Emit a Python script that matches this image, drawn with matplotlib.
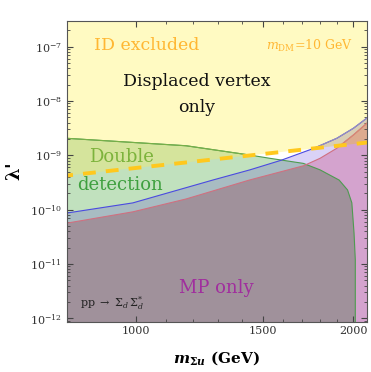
import numpy as np
import matplotlib
matplotlib.use('Agg')
import matplotlib.pyplot as plt
from matplotlib.ticker import FixedLocator, FixedFormatter, NullFormatter, LogLocator

plt.rcParams['font.family'] = 'DejaVu Serif'
plt.rcParams['mathtext.fontset'] = 'dejavuserif'

# boundaries: mass in GeV, lambda' dimensionless
# double detection (green), closes vertically near 2 TeV
m_green = [800, 1173, 1438, 1533, 1705, 1798, 1911, 1963, 1990, 2004, 2012, 2012]
lam_green = [2.06e-9, 1.50e-9, 1.01e-9, 8.8e-10, 7.1e-10, 5.4e-10, 3.5e-10,
             2.3e-10, 1.33e-10, 3.7e-11, 1.2e-11, 5e-13]

# upper edge of the blue band
m_blue = [800, 990, 1277, 1438, 1588, 1759, 1897, 2000, 2090]
lam_blue = [8.6e-11, 1.33e-10, 3.5e-10, 5.4e-10, 8.1e-10, 1.33e-9, 2.06e-9,
            3.15e-9, 4.9e-9]

# upper edge of the MP region (red)
m_mp = [800, 990, 1173, 1435, 1705, 1798, 1897, 2000, 2090]
lam_mp = [5.6e-11, 9.1e-11, 1.57e-10, 3.5e-10, 6.4e-10, 8.8e-10, 1.35e-9,
          2.37e-9, 3.95e-9]

# indirect detection bound, m_DM = 10 GeV
m_id = [800, 2090]
lam_id = [4.22e-10, 1.72e-9]

xticks = [1000, 1500, 2000]
xticklabels = ['1000', '1500', '2000']
xminor = [1100, 1200, 1300, 1400, 1600, 1700, 1800, 1900]

floor, ceil = 1e-13, 1e-5

# region colours (overlaps blend multiplicatively in the original)
c_y, c_yg, c_yb, c_ybm = '#FFFAC2', '#D5E49C', '#D9CEB4', '#DDAB8F'
c_b, c_bm = '#DAD2F7', '#D4A3CE'
c_g, c_gb, c_gbm = '#C1E1BE', '#A8BCC2', '#A0919B'

fig = plt.figure(figsize=(3.71, 3.72), dpi=100)
ax = fig.add_axes([0.18, 0.1357, 0.8086, 0.8078])
ax.set_xscale('log')
ax.set_yscale('log')


def below(x, y):
    return np.r_[x, x[-1], x[0]], np.r_[y, floor, floor]


# ID excluded (above dashed line)
yx, yy = np.r_[m_id, m_id[-1], m_id[0]], np.r_[lam_id, ceil, ceil]
ypatch, = ax.fill(yx, yy, color=c_y, lw=0)

bx, by = below(m_blue, lam_blue)
bpatch, = ax.fill(bx, by, color=c_b, lw=0)
p, = ax.fill(bx, by, color=c_yb, lw=0)
p.set_clip_path(ypatch)

mx, my = below(m_mp, lam_mp)
mpatch, = ax.fill(mx, my, color=c_bm, lw=0)
p, = ax.fill(mx, my, color=c_ybm, lw=0)
p.set_clip_path(ypatch)

gx, gy = np.r_[m_green, m_green[0]], np.r_[lam_green, floor]
ax.fill(gx, gy, color=c_g, lw=0)
for col, clip in [(c_yg, ypatch), (c_gb, bpatch), (c_gbm, mpatch)]:
    p, = ax.fill(gx, gy, color=col, lw=0)
    p.set_clip_path(clip)

# boundary lines, tinted where they sit under the yellow region
for xs, ys, col, tint in [(m_green, lam_green, '#4E9A50', '#78B048'),
                          (m_blue, lam_blue, '#4A4AE0', '#9A92BC'),
                          (m_mp, lam_mp, '#D07080', '#D88A72')]:
    ax.plot(xs, ys, color=col, lw=0.8)
    ln, = ax.plot(xs, ys, color=tint, lw=0.8)
    ln.set_clip_path(ypatch)

ax.plot(m_id, lam_id, color='#FFC81E', lw=2.8, linestyle=(1.5, (3.3, 2.6)))

ax.set_xlim(802, 2087)
ax.set_ylim(8.7e-13, 2.97e-7)

ax.xaxis.set_major_locator(FixedLocator(xticks))
ax.xaxis.set_major_formatter(FixedFormatter(xticklabels))
ax.xaxis.set_minor_locator(FixedLocator(xminor))
ax.xaxis.set_minor_formatter(NullFormatter())
ax.yaxis.set_major_locator(LogLocator(base=10, numticks=20))
ax.yaxis.set_minor_locator(LogLocator(base=10, subs=np.arange(2, 10), numticks=20))
ax.yaxis.set_minor_formatter(NullFormatter())
ax.tick_params(which='both', direction='in', top=True, right=True,
               color='#444444', labelcolor='#333333', labelsize=8)
ax.tick_params(which='major', length=4, width=0.8)
ax.tick_params(which='minor', length=2, width=0.6)
for s in ax.spines.values():
    s.set_color('#555555')
    s.set_linewidth(0.8)

# labels inside the plot
ax.text(0.268, 0.920, 'ID excluded', color='#FFB733', fontsize=12.5,
        ha='center', va='center', transform=ax.transAxes)
ax.text(0.955, 0.918, r'$m_{\rm DM}$=10 GeV', color='#FFB733', fontsize=9,
        ha='right', va='center', transform=ax.transAxes)
ax.text(0.432, 0.800, 'Displaced vertex', color='#111111', fontsize=12.5,
        ha='center', va='center', transform=ax.transAxes)
ax.text(0.432, 0.713, 'only', color='#111111', fontsize=12.5,
        ha='center', va='center', transform=ax.transAxes)
ax.text(0.181, 0.547, 'Double', color='#7DB33C', fontsize=13,
        ha='center', va='center', transform=ax.transAxes)
ax.text(0.178, 0.454, 'detection', color='#3FA03F', fontsize=13,
        ha='center', va='center', transform=ax.transAxes)
ax.text(0.498, 0.111, 'MP only', color='#A02E9E', fontsize=13,
        ha='center', va='center', transform=ax.transAxes)
ax.text(0.044, 0.061, r'pp $\rightarrow$ $\Sigma_d\,\Sigma_d^{*}$', color='#222222',
        fontsize=8, ha='left', va='center', transform=ax.transAxes)

ax.set_xlabel(r'$\boldsymbol{m}_{\mathbf{\Sigma}\boldsymbol{u}}$ (GeV)',
              fontsize=11, fontweight='bold', labelpad=9)
ax.set_ylabel(r"$\boldsymbol{\lambda}$'", fontsize=13, fontweight='bold',
              labelpad=4)

fig.savefig('out.png', dpi=100)
